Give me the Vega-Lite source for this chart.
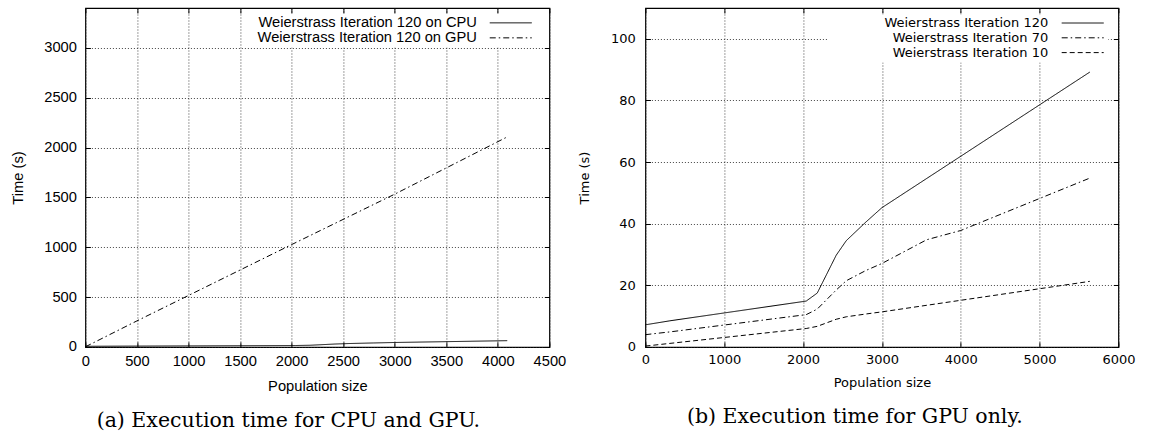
{
  "$schema": "https://vega.github.io/schema/vega-lite/v6.json",
  "background": "white",
  "padding": {"left": 9.4, "top": 6, "right": 0, "bottom": 0},
  "bounds": "flush",
  "spacing": 96,
  "config": {
    "view": {"stroke": "black", "strokeWidth": 1.2},
    "axis": {"labelColor": "black", "titleColor": "black", "titleFontWeight": "normal", "gridColor": "#222", "gridDash": [1, 2], "gridOpacity": 0.85, "gridWidth": 1, "tickColor": "black", "tickWidth": 1, "domain": false, "labelFlush": false, "labelOverlap": false, "format": "d"},
    "title": {"fontWeight": "normal", "color": "black"}
  },
  "resolve": {"scale": {"x": "independent", "y": "independent", "strokeDash": "independent"}, "legend": {"strokeDash": "independent"}},
  "hconcat": [
    {
      "width": 464,
      "height": 339,
      "title": {"text": "(a) Execution time for CPU and GPU.", "orient": "bottom", "font": "DejaVu Serif", "fontSize": 20.5, "offset": 17.5, "anchor": "middle", "dx": -29},
      "data": {"values": [
        {"series": "Weierstrass Iteration 120 on CPU", "size": 0, "time": 7.2},
        {"series": "Weierstrass Iteration 120 on CPU", "size": 311, "time": 8.5},
        {"series": "Weierstrass Iteration 120 on CPU", "size": 2040, "time": 14.9},
        {"series": "Weierstrass Iteration 120 on CPU", "size": 2180, "time": 17.5},
        {"series": "Weierstrass Iteration 120 on CPU", "size": 2421, "time": 29.8},
        {"series": "Weierstrass Iteration 120 on CPU", "size": 2548, "time": 34.5},
        {"series": "Weierstrass Iteration 120 on CPU", "size": 2795, "time": 40.5},
        {"series": "Weierstrass Iteration 120 on CPU", "size": 3000, "time": 45.2},
        {"series": "Weierstrass Iteration 120 on CPU", "size": 4091, "time": 63.5},
        {"series": "Weierstrass Iteration 120 on GPU", "size": 0, "time": 2},
        {"series": "Weierstrass Iteration 120 on GPU", "size": 500, "time": 262},
        {"series": "Weierstrass Iteration 120 on GPU", "size": 1000, "time": 517},
        {"series": "Weierstrass Iteration 120 on GPU", "size": 2000, "time": 1027},
        {"series": "Weierstrass Iteration 120 on GPU", "size": 3000, "time": 1533},
        {"series": "Weierstrass Iteration 120 on GPU", "size": 4091, "time": 2107}
      ]},
      "layer": [
        {
          "mark": {"type": "line", "color": "black", "strokeWidth": 1},
          "encoding": {
            "x": {"field": "size", "type": "quantitative", "scale": {"domain": [0, 4500], "nice": false},
              "axis": {"orient": "bottom", "values": [0, 500, 1000, 1500, 2000, 2500, 3000, 3500, 4000, 4500], "grid": true, "ticks": false, "labelFont": "Liberation Sans", "labelFontSize": 14.7, "labelPadding": 7, "title": "Population size", "titleFont": "Liberation Sans", "titleFontSize": 14.7, "titlePadding": 10}},
            "y": {"field": "time", "type": "quantitative", "scale": {"domain": [0, 3400], "nice": false},
              "axis": {"orient": "left", "values": [0, 500, 1000, 1500, 2000, 2500, 3000], "grid": true, "ticks": false, "labelFont": "Liberation Sans", "labelFontSize": 14.7, "labelPadding": 9, "title": "Time (s)", "titleFont": "Liberation Sans", "titleFontSize": 14.7, "titlePadding": 18.4}},
            "strokeDash": {"field": "series", "type": "nominal",
              "scale": {"domain": ["Weierstrass Iteration 120 on CPU", "Weierstrass Iteration 120 on GPU"], "range": [[1, 0], [6, 3, 1.5, 3]]},
              "legend": {"title": null, "orient": "none", "legendX": 160, "legendY": 5.5, "fillColor": "white", "padding": 2, "symbolType": "M0,0H42", "symbolSize": 4, "symbolStrokeWidth": 1, "symbolStrokeColor": "black", "symbolFillColor": "transparent", "labelAlign": "right", "labelOffset": -20.2, "symbolOffset": 235, "labelFont": "Liberation Sans", "labelFontSize": 14.7, "labelColor": "black", "labelLimit": 400, "rowPadding": -7}}
          }
        },
        {
          "mark": {"type": "point", "opacity": 0},
          "encoding": {
            "x": {"field": "size", "type": "quantitative", "scale": {"domain": [0, 4500], "nice": false},
              "axis": {"orient": "top", "values": [0, 500, 1000, 1500, 2000, 2500, 3000, 3500, 4000, 4500], "grid": false, "labels": false, "ticks": true, "tickSize": 5, "offset": -5, "title": null, "zindex": 1}},
            "y": {"field": "time", "type": "quantitative", "scale": {"domain": [0, 3400], "nice": false},
              "axis": {"orient": "right", "values": [0, 500, 1000, 1500, 2000, 2500, 3000], "grid": false, "labels": false, "ticks": true, "tickSize": 5, "offset": -5, "title": null, "zindex": 1}}
          }
        },
        {
          "mark": {"type": "point", "opacity": 0},
          "encoding": {
            "x": {"field": "size", "type": "quantitative", "scale": {"domain": [0, 4500], "nice": false},
              "axis": {"orient": "bottom", "values": [0, 500, 1000, 1500, 2000, 2500, 3000, 3500, 4000, 4500], "grid": false, "labels": false, "ticks": true, "tickSize": 5, "offset": -5, "title": null, "zindex": 1}},
            "y": {"field": "time", "type": "quantitative", "scale": {"domain": [0, 3400], "nice": false},
              "axis": {"orient": "left", "values": [0, 500, 1000, 1500, 2000, 2500, 3000], "grid": false, "labels": false, "ticks": true, "tickSize": 5, "offset": -5, "title": null, "zindex": 1}}
          }
        }
      ],
      "resolve": {"axis": {"x": "independent", "y": "independent"}}
    },
    {
      "width": 473,
      "height": 339,
      "title": {"text": "(b) Execution time for GPU only.", "orient": "bottom", "font": "DejaVu Serif", "fontSize": 20.5, "offset": 17.5, "anchor": "middle", "dx": -27},
      "data": {"values": [
        {"series": "Weierstrass Iteration 120", "size": 0, "time": 7.2},
        {"series": "Weierstrass Iteration 120", "size": 311, "time": 8.5},
        {"series": "Weierstrass Iteration 120", "size": 2040, "time": 14.9},
        {"series": "Weierstrass Iteration 120", "size": 2180, "time": 17.5},
        {"series": "Weierstrass Iteration 120", "size": 2421, "time": 29.8},
        {"series": "Weierstrass Iteration 120", "size": 2548, "time": 34.5},
        {"series": "Weierstrass Iteration 120", "size": 2795, "time": 40.5},
        {"series": "Weierstrass Iteration 120", "size": 3000, "time": 45.2},
        {"series": "Weierstrass Iteration 120", "size": 5637, "time": 89.2},
        {"series": "Weierstrass Iteration 70", "size": 0, "time": 4.0},
        {"series": "Weierstrass Iteration 70", "size": 311, "time": 4.9},
        {"series": "Weierstrass Iteration 70", "size": 2040, "time": 10.5},
        {"series": "Weierstrass Iteration 70", "size": 2180, "time": 12.3},
        {"series": "Weierstrass Iteration 70", "size": 2421, "time": 18.5},
        {"series": "Weierstrass Iteration 70", "size": 2548, "time": 21.5},
        {"series": "Weierstrass Iteration 70", "size": 2795, "time": 24.8},
        {"series": "Weierstrass Iteration 70", "size": 3000, "time": 27.1},
        {"series": "Weierstrass Iteration 70", "size": 3568, "time": 34.8},
        {"series": "Weierstrass Iteration 70", "size": 4000, "time": 37.8},
        {"series": "Weierstrass Iteration 70", "size": 5637, "time": 54.8},
        {"series": "Weierstrass Iteration 10", "size": 0, "time": 0.3},
        {"series": "Weierstrass Iteration 10", "size": 2040, "time": 6.0},
        {"series": "Weierstrass Iteration 10", "size": 2180, "time": 6.7},
        {"series": "Weierstrass Iteration 10", "size": 2421, "time": 9.0},
        {"series": "Weierstrass Iteration 10", "size": 2548, "time": 9.8},
        {"series": "Weierstrass Iteration 10", "size": 2795, "time": 10.7},
        {"series": "Weierstrass Iteration 10", "size": 3000, "time": 11.4},
        {"series": "Weierstrass Iteration 10", "size": 5637, "time": 21.3}
      ]},
      "layer": [
        {
          "mark": {"type": "line", "color": "black", "strokeWidth": 1},
          "encoding": {
            "x": {"field": "size", "type": "quantitative", "scale": {"domain": [0, 6000], "nice": false},
              "axis": {"orient": "bottom", "values": [0, 1000, 2000, 3000, 4000, 5000, 6000], "grid": true, "ticks": false, "labelFont": "DejaVu Sans", "labelFontSize": 13, "labelPadding": 7, "title": "Population size", "titleFont": "DejaVu Sans", "titleFontSize": 13, "titlePadding": 10}},
            "y": {"field": "time", "type": "quantitative", "scale": {"domain": [0, 110], "nice": false},
              "axis": {"orient": "left", "values": [0, 20, 40, 60, 80, 100], "grid": true, "ticks": false, "labelFont": "DejaVu Sans", "labelFontSize": 13, "labelPadding": 10, "title": "Time (s)", "titleFont": "DejaVu Sans", "titleFontSize": 13, "titlePadding": 19}},
            "strokeDash": {"field": "series", "type": "nominal",
              "scale": {"domain": ["Weierstrass Iteration 120", "Weierstrass Iteration 70", "Weierstrass Iteration 10"], "range": [[1, 0], [6, 3, 1.5, 3], [5, 3]]},
              "legend": {"title": null, "orient": "none", "legendX": 182, "legendY": 6.5, "fillColor": "white", "padding": 2, "symbolType": "M0,0H42", "symbolSize": 4, "symbolStrokeWidth": 1, "symbolStrokeColor": "black", "symbolFillColor": "transparent", "labelAlign": "right", "labelOffset": -20, "symbolOffset": 225.8, "labelFont": "DejaVu Sans", "labelFontSize": 13, "labelColor": "black", "labelLimit": 400, "rowPadding": 0.8}}
          }
        },
        {
          "mark": {"type": "point", "opacity": 0},
          "encoding": {
            "x": {"field": "size", "type": "quantitative", "scale": {"domain": [0, 6000], "nice": false},
              "axis": {"orient": "top", "values": [0, 1000, 2000, 3000, 4000, 5000, 6000], "grid": false, "labels": false, "ticks": true, "tickSize": 5, "offset": -5, "title": null, "zindex": 1}},
            "y": {"field": "time", "type": "quantitative", "scale": {"domain": [0, 110], "nice": false},
              "axis": {"orient": "right", "values": [0, 20, 40, 60, 80, 100], "grid": false, "labels": false, "ticks": true, "tickSize": 5, "offset": -5, "title": null, "zindex": 1}}
          }
        },
        {
          "mark": {"type": "point", "opacity": 0},
          "encoding": {
            "x": {"field": "size", "type": "quantitative", "scale": {"domain": [0, 6000], "nice": false},
              "axis": {"orient": "bottom", "values": [0, 1000, 2000, 3000, 4000, 5000, 6000], "grid": false, "labels": false, "ticks": true, "tickSize": 5, "offset": -5, "title": null, "zindex": 1}},
            "y": {"field": "time", "type": "quantitative", "scale": {"domain": [0, 110], "nice": false},
              "axis": {"orient": "left", "values": [0, 20, 40, 60, 80, 100], "grid": false, "labels": false, "ticks": true, "tickSize": 5, "offset": -5, "title": null, "zindex": 1}}
          }
        }
      ],
      "resolve": {"axis": {"x": "independent", "y": "independent"}}
    }
  ]
}
